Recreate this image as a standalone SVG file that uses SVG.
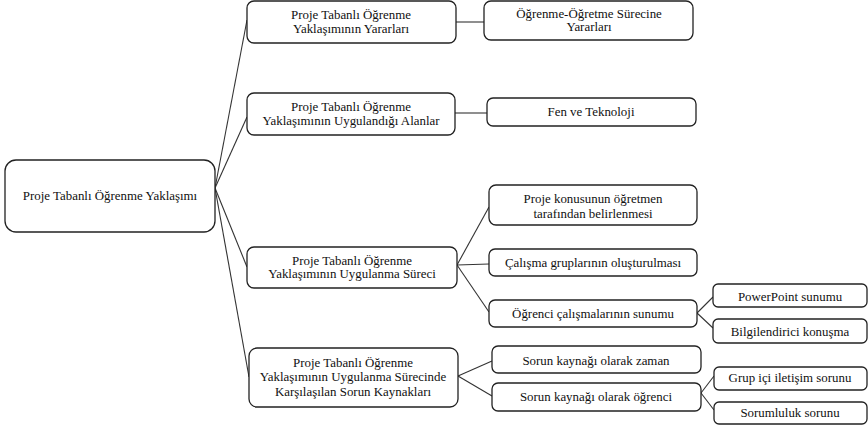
<svg xmlns="http://www.w3.org/2000/svg" width="868" height="426" viewBox="0 0 868 426">
<style>
.n rect{fill:#fff;stroke:#222;stroke-width:1.3}
text{font-family:"Liberation Serif","Times New Roman",serif;font-size:12.9px;fill:#111;text-anchor:middle}
.c line,.c path{stroke:#333;stroke-width:1.1;fill:none}
</style>
<rect width="868" height="426" fill="#fff"/>
<g class="c">
<line x1="215" y1="188" x2="247" y2="20"/>
<line x1="215" y1="188" x2="247" y2="117"/>
<line x1="215" y1="188" x2="247" y2="267"/>
<line x1="215" y1="188" x2="249" y2="377"/>
<line x1="456" y1="22" x2="484" y2="22"/>
<line x1="455" y1="113" x2="487" y2="113"/>
<line x1="457" y1="265" x2="489" y2="207"/>
<line x1="457" y1="265" x2="489" y2="264"/>
<line x1="457" y1="265" x2="489" y2="312"/>
<line x1="697" y1="313" x2="713" y2="297"/>
<line x1="697" y1="313" x2="713" y2="328"/>
<line x1="458" y1="376" x2="492" y2="361"/>
<line x1="458" y1="376" x2="492" y2="396"/>
<line x1="701" y1="393" x2="714" y2="376"/>
<line x1="701" y1="393" x2="714" y2="410"/>
</g>
<g id="root" class="n"><rect x="5" y="160" width="210" height="72" rx="11"/><text x="110" y="200">Proje Tabanlı Öğrenme Yaklaşımı</text></g>
<g id="a" class="n"><rect x="247" y="1" width="209" height="42" rx="7"/><text x="351" y="19">Proje Tabanlı Öğrenme</text><text x="351" y="33">Yaklaşımının Yararları</text></g>
<g id="b" class="n"><rect x="247" y="93" width="208" height="42" rx="7"/><text x="351" y="111">Proje Tabanlı Öğrenme</text><text x="351" y="125">Yaklaşımının Uygulandığı Alanlar</text></g>
<g id="c" class="n"><rect x="247" y="247" width="210" height="41" rx="7"/><text x="352" y="265">Proje Tabanlı Öğrenme</text><text x="352" y="278">Yaklaşımının Uygulanma Süreci</text></g>
<g id="d" class="n"><rect x="249" y="348" width="209" height="59" rx="8"/><text x="353" y="367">Proje Tabanlı Öğrenme</text><text x="353" y="381">Yaklaşımının Uygulanma Sürecinde</text><text x="353" y="396">Karşılaşılan Sorun Kaynakları</text></g>
<g id="a1" class="n"><rect x="484" y="1" width="209" height="39" rx="7"/><text x="589" y="18">Öğrenme-Öğretme Sürecine</text><text x="589" y="31">Yararları</text></g>
<g id="b1" class="n"><rect x="487" y="98" width="209" height="28" rx="6"/><text x="591" y="116">Fen ve Teknoloji</text></g>
<g id="c1" class="n"><rect x="489" y="185" width="208" height="40" rx="7"/><text x="593" y="203">Proje konusunun öğretmen</text><text x="593" y="218">tarafından belirlenmesi</text></g>
<g id="c2" class="n"><rect x="489" y="249" width="208" height="27" rx="6"/><text x="593" y="267">Çalışma gruplarının oluşturulması</text></g>
<g id="c3" class="n"><rect x="489" y="300" width="208" height="27" rx="6"/><text x="593" y="318">Öğrenci çalışmalarının sunumu</text></g>
<g id="c3a" class="n"><rect x="713" y="284" width="154" height="23" rx="5"/><text x="790" y="301">PowerPoint sunumu</text></g>
<g id="c3b" class="n"><rect x="713" y="319" width="154" height="24" rx="5"/><text x="790" y="336">Bilgilendirici konuşma</text></g>
<g id="d1" class="n"><rect x="492" y="346" width="209" height="27" rx="6"/><text x="596" y="365">Sorun kaynağı olarak zaman</text></g>
<g id="d2" class="n"><rect x="492" y="383" width="209" height="28" rx="6"/><text x="596" y="401">Sorun kaynağı olarak öğrenci</text></g>
<g id="d2a" class="n"><rect x="714" y="367" width="153" height="23" rx="5"/><text x="790" y="382">Grup içi iletişim sorunu</text></g>
<g id="d2b" class="n"><rect x="714" y="402" width="153" height="22" rx="5"/><text x="790" y="417">Sorumluluk sorunu</text></g>
</svg>
